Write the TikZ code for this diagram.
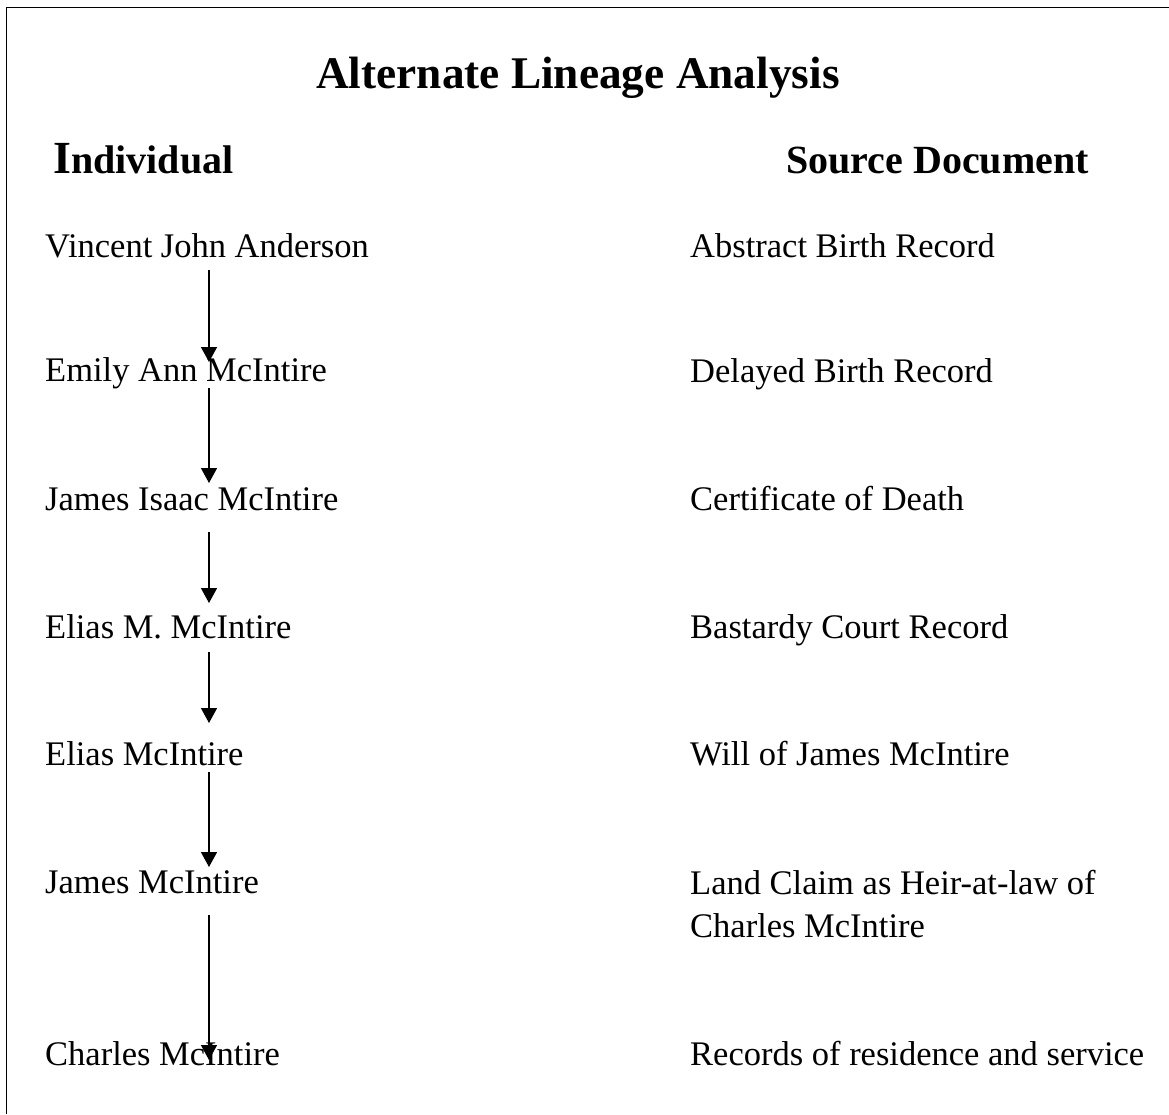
\documentclass[tikz,border=0pt]{standalone}
\usepackage{fontspec}
\setmainfont{Liberation Serif}
\usetikzlibrary{arrows.meta,calc}
\begin{document}
\begin{tikzpicture}[x=1pt,y=-1pt,
  txt/.style={anchor=base west,inner sep=0pt,font=\fontsize{34.5}{40}\selectfont},
  head/.style={anchor=base west,inner sep=0pt,font=\fontsize{40}{46}\selectfont\bfseries},
  ttl/.style={anchor=base west,inner sep=0pt,font=\fontsize{45.3}{52}\selectfont\bfseries},
  arr/.style={line width=1.5pt,-{Triangle[length=15pt,width=16pt]}},
  frame/.style={line width=1pt}]
\useasboundingbox (0,0) rectangle (1169,1114);
\draw[frame] (6,1114) -- (6,7) -- (1169,7);
\node[ttl] (title) at (316,88) {Alternate Lineage Analysis};
\node[head] (hind) at (53,173) {{\fontsize{46}{50}\selectfont I}ndividual};
\node[head] (hsrc) at (786,173) {Source Document};
\coordinate (axis) at (209,0);
\node[txt] (v1) at (45,257) {Vincent John Anderson};
\node[txt] (v2) at (45,381) {Emily Ann McIntire};
\node[txt] (v3) at (45,510) {James Isaac McIntire};
\node[txt] (v4) at (45,638) {Elias M. McIntire};
\node[txt] (v5) at (45,765) {Elias McIntire};
\node[txt] (v6) at (45,893) {James McIntire};
\node[txt] (v7) at (45,1065) {Charles McIntire};
\node[txt] (d1) at (690,257) {Abstract Birth Record};
\node[txt] (d2) at (690,382) {Delayed Birth Record};
\node[txt] (d3) at (690,510) {Certificate of Death};
\node[txt] (d4) at (690,638) {Bastardy Court Record};
\node[txt] (d5) at (690,765) {Will of James McIntire};
\node[txt] (d6) at (690,894) {Land Claim as Heir-at-law of};
\node[txt] (d6b) at (690,937) {Charles McIntire};
\node[txt] (d7) at (690,1065) {Records of residence and service};
\draw[arr] ($(v1.base -| axis)+(0,13)$) -- ($(v2.base -| axis)+(0,-19)$);
\draw[arr] ($(v2.base -| axis)+(0,7)$) -- ($(v3.base -| axis)+(0,-27)$);
\draw[arr] ($(v3.base -| axis)+(0,22)$) -- ($(v4.base -| axis)+(0,-35)$);
\draw[arr] ($(v4.base -| axis)+(0,14)$) -- ($(v5.base -| axis)+(0,-42)$);
\draw[arr] ($(v5.base -| axis)+(0,7)$) -- ($(v6.base -| axis)+(0,-26)$);
\draw[arr] ($(v6.base -| axis)+(0,22)$) -- ($(v7.base -| axis)+(0,-5)$);
\end{tikzpicture}
\end{document}
